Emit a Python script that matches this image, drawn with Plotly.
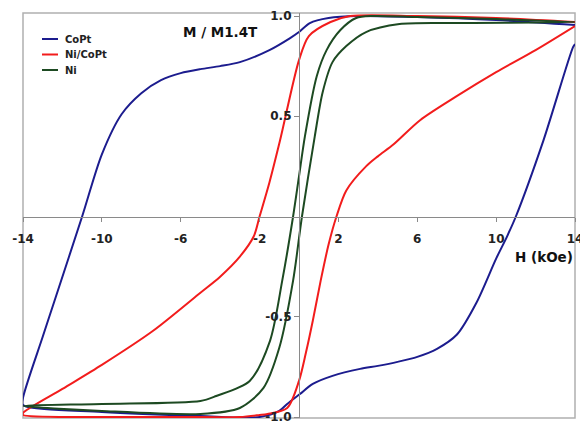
import plotly.graph_objects as go

# ---------------- data (H in kOe, M normalised) ----------------
copt_h = [14, 10, 6, 3, 1.5, 0.55, 0, -0.45, -1.5, -3, -4, -5, -6, -7, -8, -9, -10, -11, -12.4, -13, -14, -14,
          -10, -5, -2, -1, -0.6, 0.05, 0.7, 1.7, 3.1, 4, 5, 6, 7, 8, 9, 10, 10.55, 11, 12.4, 13.9, 14]
copt_m = [0.955, 0.98, 0.995, 1.0, 0.99, 0.965, 0.92, 0.89, 0.83, 0.77, 0.75, 0.735, 0.715, 0.68, 0.615, 0.51, 0.31, 0.0, -0.42, -0.6, -0.905, -0.94,
          -0.975, -0.995, -1.0, -0.97, -0.935, -0.885, -0.835, -0.795, -0.76, -0.745, -0.725, -0.7, -0.66, -0.59, -0.43, -0.21, -0.1, 0.0, 0.38, 0.845, 0.86]

nicopt_h = [14, 10, 6, 2.6, 1.6, 0.5, 0, -0.96, -1.5, -2.0, -2.3, -3, -4, -5, -7.4, -10, -12, -14,
            -14, -10, -6, -3, -2, -1.6, -0.6, 0, 0.35, 0.7, 1.1, 1.5, 1.9, 2.4, 3.4, 4, 4.8, 6.14, 8, 10, 12, 14]
nicopt_m = [0.97, 0.99, 1.0, 1.0, 0.97, 0.9, 0.78, 0.38, 0.17, 0.0, -0.1, -0.2, -0.3, -0.38, -0.57, -0.74, -0.86, -0.98,
            -0.99, -1.0, -1.0, -1.0, -0.99, -0.985, -0.955, -0.82, -0.68, -0.52, -0.32, -0.14, 0.0, 0.13, 0.25, 0.3, 0.36, 0.48, 0.6, 0.72, 0.83, 0.95]

ni_h = [14, 10, 6, 3.75, 2.9, 2.1, 1.4, 0.9, 0.3, 0, -0.3, -0.85, -1.47, -2.5, -4.2, -5, -10, -14,
        -10, -5, -3, -1.8, -1.0, -0.3, 0.15, 0.8, 1.2, 1.7, 2.4, 3.4, 5.1, 8, 14]
ni_m = [0.97, 0.985, 0.995, 1.0, 0.99, 0.93, 0.83, 0.7, 0.4, 0.2, 0.0, -0.32, -0.62, -0.82, -0.895, -0.92, -0.935, -0.945,
        -0.97, -0.985, -0.955, -0.855, -0.655, -0.32, 0.0, 0.4, 0.62, 0.77, 0.85, 0.92, 0.96, 0.965, 0.97]

series_names = ["CoPt", "Ni/CoPt", "Ni"]
series_colors = ["#1c1c8e", "#f21c1c", "#1d4a22"]
series_h = [copt_h, nicopt_h, ni_h]
series_m = [copt_m, nicopt_m, ni_m]

x_ticks = [-14, -10, -6, -2, 2, 6, 10, 14]
y_ticks = [-1.0, -0.5, 0.5, 1.0]

FONT = "DejaVu Sans"

fig = go.Figure()
for name, h, m, col in zip(series_names, series_h, series_m, series_colors):
    fig.add_trace(go.Scatter(x=h, y=m, mode="lines", name=name, showlegend=False,
                             line=dict(color=col, width=2, shape="spline", smoothing=0.8)))

# hand-made compact legend (top-left)
L, R, T, B = 23, 5, 13, 3
W, H = 580, 421
pw, ph = W - L - R, H - T - B
shapes = [dict(type="rect", xref="paper", yref="paper", x0=0, y0=0, x1=1, y1=1,
               line=dict(color="#b0b0b0", width=1.5), fillcolor="rgba(0,0,0,0)", layer="below")]
annotations = []
for i, (name, col) in enumerate(zip(series_names, series_colors)):
    ypx = 39 + 15.5 * i
    yp = (H - B - ypx) / ph
    shapes.append(dict(type="line", xref="paper", yref="paper",
                       x0=(42 - L) / pw, x1=(58 - L) / pw, y0=yp, y1=yp,
                       line=dict(color=col, width=2)))
    annotations.append(dict(text=name, xref="paper", yref="paper", x=(63 - L) / pw, y=yp,
                            xanchor="left", yanchor="middle", showarrow=False,
                            font=dict(family=FONT, size=10, color="#222", weight="bold")))

annotations += [
    dict(text="M / M1.4T", x=-4.0, y=0.92, xref="x", yref="y", showarrow=False,
         font=dict(family=FONT, size=13.5, color="#111", weight="bold")),
    dict(text="H (kOe)", x=14, y=-0.2, xref="x", yref="y", xanchor="right", showarrow=False,
         font=dict(family=FONT, size=13.5, color="#111", weight="bold")),
]

y_range = [-1.005, 1.015]
fig.update_layout(
    width=W, height=H,
    margin=dict(l=L, r=R, t=T, b=B, autoexpand=False),
    paper_bgcolor="white", plot_bgcolor="white",
    showlegend=False,
    xaxis=dict(range=[-14, 14], domain=[0, 1], anchor="free", position=(0 - y_range[0]) / (y_range[1] - y_range[0]),
               automargin=False, ticklabeloverflow="allow",
               showgrid=False, zeroline=False, showline=True, linecolor="#8a8a8a", linewidth=1.2,
               tickvals=x_ticks, ticktext=[str(v) for v in x_ticks], ticks="outside", ticklen=4,
               tickcolor="#8a8a8a", ticklabelstandoff=7,
               tickfont=dict(family=FONT, size=12, color="#222", weight="bold")),
    yaxis=dict(range=y_range, domain=[0, 1], anchor="free", position=0.5,
               automargin=False, ticklabeloverflow="allow",
               showgrid=False, zeroline=False, showline=True, linecolor="#8a8a8a", linewidth=1.2,
               tickvals=y_ticks, ticktext=[f"{v:.1f}" for v in y_ticks], ticks="outside", ticklen=5,
               tickcolor="#8a8a8a",
               tickfont=dict(family=FONT, size=12, color="#222", weight="bold")),
    shapes=shapes,
    annotations=annotations,
)

fig.write_html("out.html", config={"displayModeBar": False},
               post_script="document.body.style.margin='0px';document.body.style.overflow='hidden';")
